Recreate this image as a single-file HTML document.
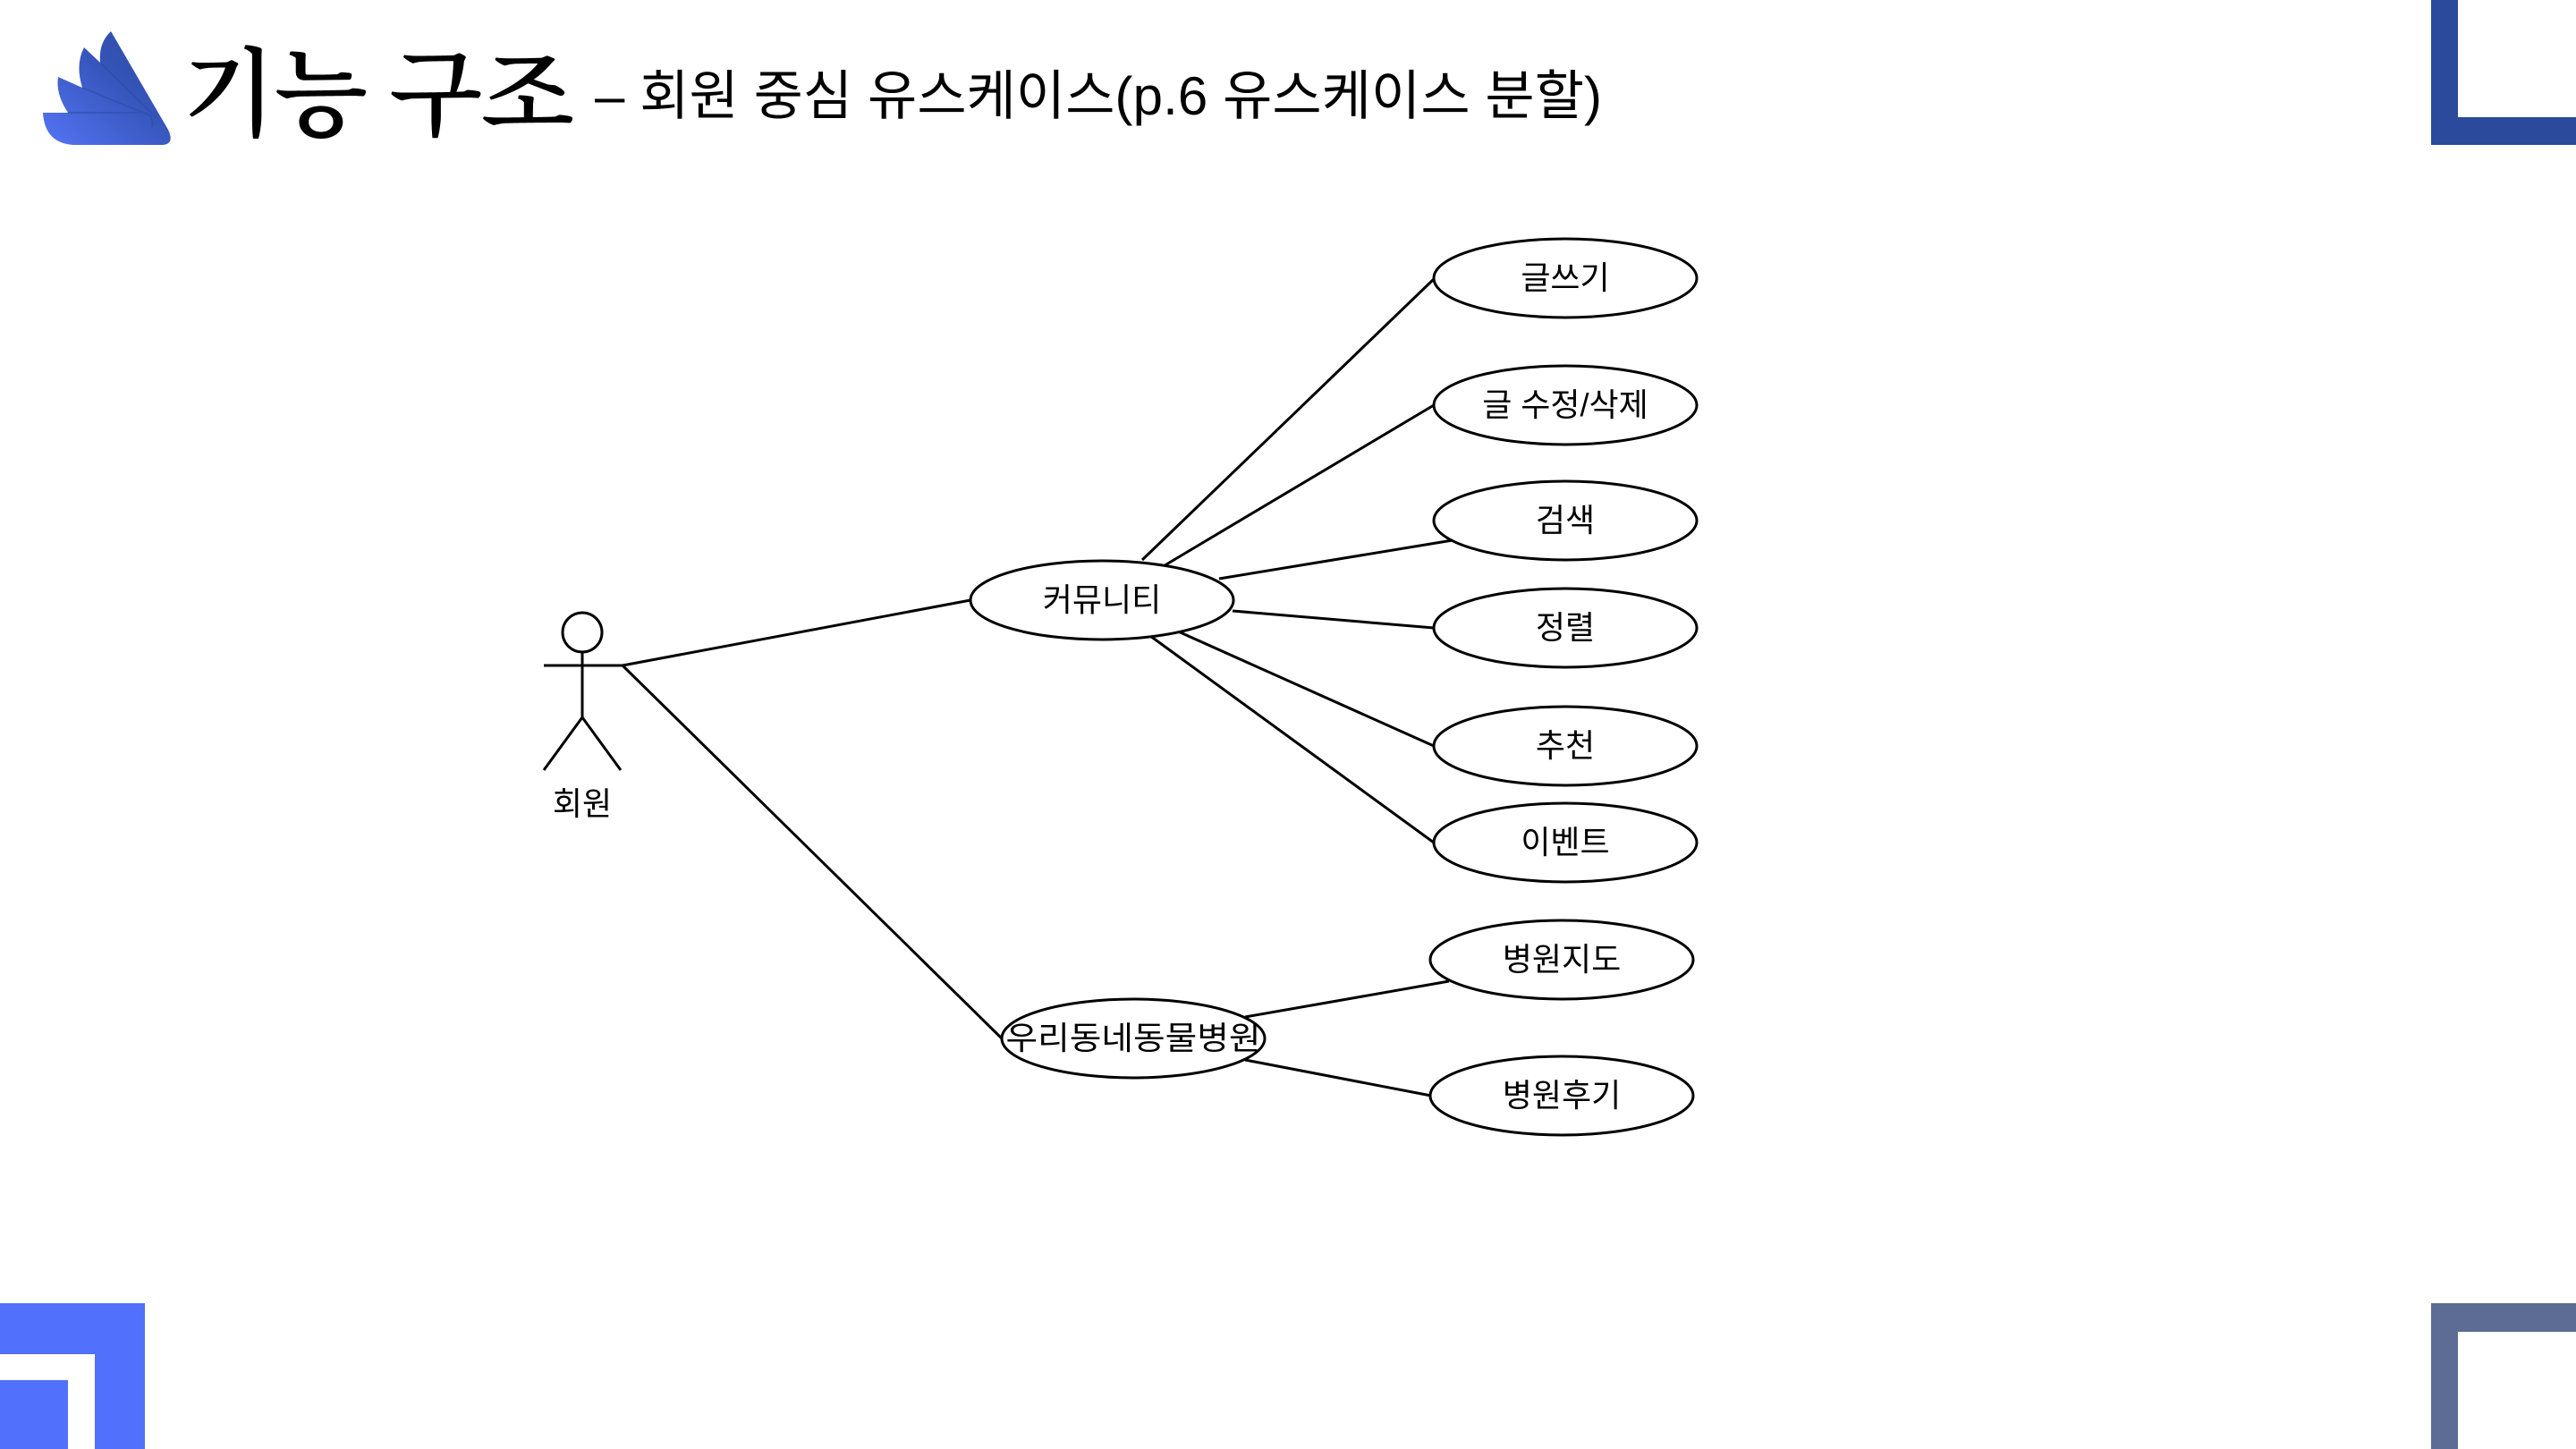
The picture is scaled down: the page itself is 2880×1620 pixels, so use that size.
<!DOCTYPE html>
<html><head><meta charset="utf-8"><style>
html,body{margin:0;padding:0;background:#fff;}
body{width:2880px;height:1620px;overflow:hidden;position:relative;}
svg{position:absolute;left:0;top:0;}
</style></head><body>
<svg width="2880" height="1620" viewBox="0 0 2880 1620" xmlns="http://www.w3.org/2000/svg">
<defs>
<linearGradient id="g" x1="0" y1="1" x2="1" y2="0">
<stop offset="0" stop-color="#5574f5"/><stop offset="0.6" stop-color="#3554b8"/><stop offset="1" stop-color="#2c4a9e"/>
</linearGradient>
</defs>
<!-- corners -->
<rect x="2718" y="0" width="30" height="162" fill="#2b4a9b"/>
<rect x="2718" y="131" width="162" height="31" fill="#2b4a9b"/>
<rect x="0" y="1457" width="162" height="57" fill="#5170fb"/>
<rect x="106" y="1457" width="56" height="163" fill="#5170fb"/>
<rect x="0" y="1543" width="76" height="77" fill="#5170fb"/>
<rect x="2718" y="1457" width="162" height="32" fill="#5c6c94"/>
<rect x="2718" y="1457" width="30" height="163" fill="#5c6c94"/>
<!-- logo -->
<path d="M124,35 L188,145 Q196,162 180,162 L82,162 Q50,160 48,126 L76,126 Q62,105 65,86 L92,98 Q84,72 94,53 L112,70 Q110,48 124,35 Z" fill="url(#g)"/>
<g stroke="#2f4ea8" stroke-width="2" fill="none" opacity="0.6">
<path d="M112,70 L175,132"/>
<path d="M92,98 L170,130"/>
<path d="M76,126 L160,126 Q172,128 170,142"/>
</g>
<text x="204" y="143" font-family="'Noto Serif CJK SC','Noto Sans CJK KR',serif" font-size="108" font-weight="600" fill="#000" textLength="438">기능 구조</text>
<text x="665" y="128" font-family="'Liberation Sans','Noto Sans CJK KR',sans-serif" font-size="60" fill="#000" textLength="1126">– 회원 중심 유스케이스(p.6 유스케이스 분할)</text>
<!-- lines -->
<g stroke="#000" stroke-width="3" fill="none">
<line x1="696" y1="744" x2="1085" y2="671"/>
<line x1="696" y1="744" x2="1120" y2="1161"/>
<line x1="1277" y1="626" x2="1603" y2="312"/>
<line x1="1299" y1="634" x2="1603" y2="453"/>
<line x1="1363" y1="647" x2="1624" y2="604"/>
<line x1="1378" y1="683" x2="1603" y2="702"/>
<line x1="1315" y1="705" x2="1603" y2="834"/>
<line x1="1286" y1="711" x2="1603" y2="942"/>
<line x1="1392" y1="1137" x2="1620" y2="1097"/>
<line x1="1392" y1="1185" x2="1600" y2="1225"/>
<!-- actor -->
<ellipse cx="651" cy="707" rx="22" ry="22"/>
<line x1="651" y1="729" x2="651" y2="802"/>
<line x1="608" y1="744" x2="696" y2="744"/>
<line x1="651" y1="802" x2="608" y2="861"/>
<line x1="651" y1="802" x2="694" y2="861"/>
</g>
<g stroke="#000" stroke-width="3" fill="#fff">
<ellipse cx="1232" cy="671" rx="147" ry="44"/>
<ellipse cx="1267" cy="1161" rx="147" ry="44"/>
<ellipse cx="1750" cy="311" rx="147" ry="44"/>
<ellipse cx="1750" cy="453" rx="147" ry="44"/>
<ellipse cx="1750" cy="582" rx="147" ry="44"/>
<ellipse cx="1750" cy="702" rx="147" ry="44"/>
<ellipse cx="1750" cy="834" rx="147" ry="44"/>
<ellipse cx="1750" cy="942" rx="147" ry="44"/>
<ellipse cx="1746" cy="1073" rx="147" ry="44"/>
<ellipse cx="1746" cy="1225" rx="147" ry="44"/>
</g>
<g font-family="'Liberation Sans','Noto Sans CJK KR',sans-serif" font-size="36" fill="#000" text-anchor="middle">
<text x="651" y="911">회원</text>
<text x="1232" y="683">커뮤니티</text>
<text x="1267" y="1173" textLength="285" lengthAdjust="spacingAndGlyphs">우리동네동물병원</text>
<text x="1750" y="323">글쓰기</text>
<text x="1750" y="465">글 수정/삭제</text>
<text x="1750" y="594">검색</text>
<text x="1750" y="714">정렬</text>
<text x="1750" y="846">추천</text>
<text x="1750" y="954">이벤트</text>
<text x="1746" y="1085">병원지도</text>
<text x="1746" y="1237">병원후기</text>
</g>
</svg>
</body></html>
